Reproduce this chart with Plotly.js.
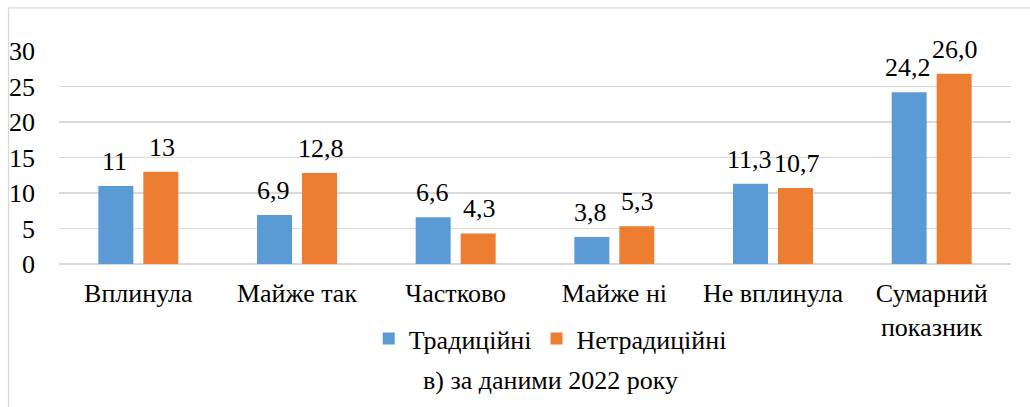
<!DOCTYPE html>
<html>
<head>
<meta charset="utf-8">
<script src="https://cdn.plot.ly/plotly-3.0.1.min.js"></script>
<style>html,body{margin:0;padding:0;background:#fff;}#chart{width:1030px;height:407px;}</style>
</head>
<body>
<div id="chart"></div>
<script>
const categories = ["Вплинула", "Майже так", "Частково", "Майже ні", "Не вплинула", "Сумарний<br>показник"];
const traditional = [11, 6.9, 6.6, 3.8, 11.3, 24.2];
const nontraditional = [13, 12.8, 4.3, 5.3, 10.7, 26.8];
const traditionalLabels = ["11", "6,9", "6,6", "3,8", "11,3", "24,2"];
const nontraditionalLabels = ["13", "12,8", "4,3", "5,3", "10,7", "26,0"];
const seriesNames = ["Традиційні", "Нетрадиційні"];
const yTicks = [0, 5, 10, 15, 20, 25, 30];
const chartTitle = "в) за даними 2022 року";

const FONT = "Liberation Serif, Times New Roman, serif";
const FS = 26;
const BLUE = "#5B9BD5", ORANGE = "#ED7D31";

const traces = [
  {type: "bar", name: seriesNames[0], x: categories, y: traditional, marker: {color: BLUE}, hoverinfo: "skip"},
  {type: "bar", name: seriesNames[1], x: categories, y: nontraditional, marker: {color: ORANGE}, hoverinfo: "skip"}
];

const annotations = [];
categories.forEach((c, i) => {
  annotations.push({x: c, y: traditional[i], xref: "x", yref: "y", text: traditionalLabels[i], showarrow: false,
    xanchor: "center", yanchor: "bottom", xshift: -23.5, yshift: 8, font: {family: FONT, size: FS, color: "#000"}});
  annotations.push({x: c, y: nontraditional[i], xref: "x", yref: "y", text: nontraditionalLabels[i], showarrow: false,
    xanchor: "center", yanchor: "bottom", xshift: 23.5, yshift: 8, font: {family: FONT, size: FS, color: "#000"}});
});
annotations.push({x: 0.516, y: -0.545, xref: "paper", yref: "paper", text: chartTitle, showarrow: false,
  xanchor: "center", yanchor: "middle", font: {family: FONT, size: FS, color: "#000"}});

const layout = {
  width: 1030, height: 407,
  margin: {l: 59, r: 19, t: 51, b: 143},
  paper_bgcolor: "#fff", plot_bgcolor: "#fff",
  font: {family: FONT, size: FS, color: "#000"},
  barmode: "group", bargap: 0.433, bargroupgap: 0.222,
  showlegend: true,
  legend: {orientation: "h", x: 0.516, xanchor: "center", y: -0.24, yanchor: "top",
    font: {family: FONT, size: FS, color: "#000"}, itemwidth: 30, traceorder: "normal"},
  xaxis: {type: "category", showgrid: false, zeroline: false, showline: false, ticks: "",
    tickfont: {family: FONT, size: FS, color: "#000"}, ticklabelstandoff: 11, fixedrange: true},
  yaxis: {range: [0, 30], tickvals: yTicks, ticktext: yTicks.map(String), showgrid: true, gridcolor: "#D9D9D9", gridwidth: 1.3,
    zeroline: true, zerolinecolor: "#D9D9D9", zerolinewidth: 1.3, showline: false, ticks: "",
    tickfont: {family: FONT, size: FS, color: "#000"}, ticklabelstandoff: 23, fixedrange: true},
  annotations: annotations,
  shapes: [
    {type: "line", xref: "paper", yref: "paper", x0: -0.053, x1: 1.03, y0: 1.202, y1: 1.202,
      line: {color: "#D9D9D9", width: 1.3}},
    {type: "line", xref: "paper", yref: "paper", x0: -0.053, x1: -0.053, y0: 1.202, y1: -0.7,
      line: {color: "#D9D9D9", width: 1.3}}
  ]
};

Plotly.newPlot("chart", traces, layout, {displayModeBar: false, staticPlot: true});
</script>
</body>
</html>
